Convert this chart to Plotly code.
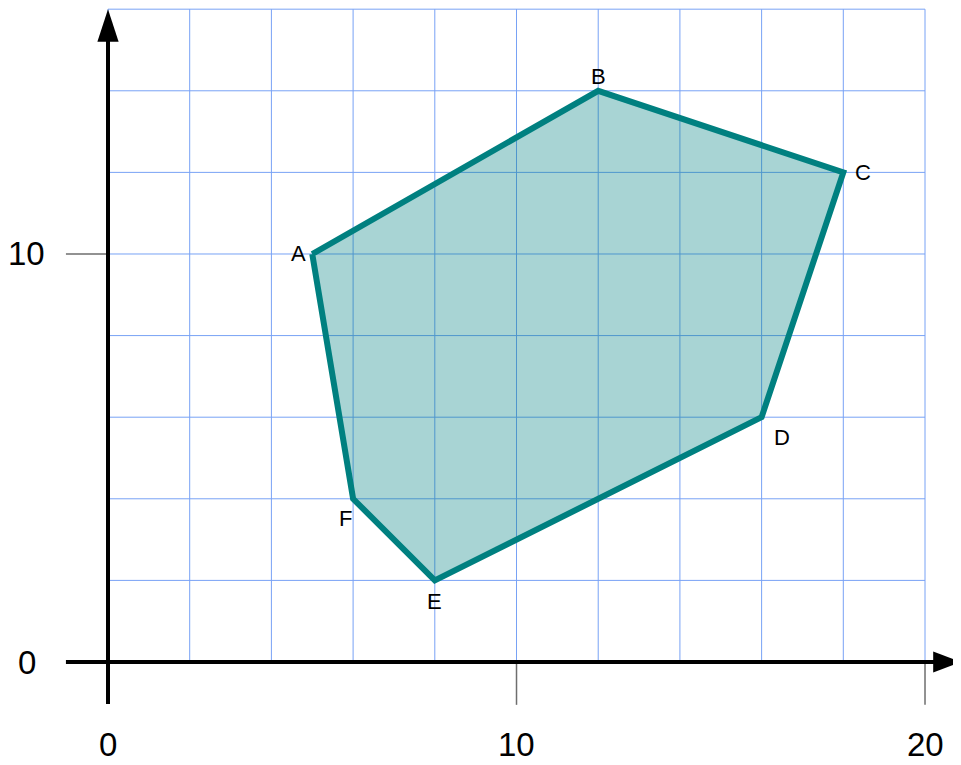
import plotly.graph_objects as go

# Data
vertex_names = ["A", "B", "C", "D", "E", "F"]
vertex_x = [5, 12, 18, 16, 8, 6]
vertex_y = [10, 14, 12, 6, 2, 4]

grid_x = list(range(0, 21, 2))
grid_y = list(range(0, 17, 2))
x_tick_labels = [0, 10, 20]
y_tick_labels = [0, 10]

# label offsets in pixels (dx, dy)
label_offsets = {"A": (-14, 0), "B": (0, 14), "C": (20, 0), "D": (20, -20),
                 "E": (0, -21), "F": (-8, -20)}

fig = go.Figure()

grid_color = "rgb(120,162,245)"
shapes = []
for gx in grid_x:
    shapes.append(dict(type="line", xref="x", yref="y", x0=gx, x1=gx, y0=0, y1=16,
                       line=dict(color=grid_color, width=1), layer="below"))
for gy in grid_y:
    shapes.append(dict(type="line", xref="x", yref="y", x0=0, x1=20, y0=gy, y1=gy,
                       line=dict(color=grid_color, width=1), layer="below"))

# polygon
px = vertex_x + [vertex_x[0]]
py = vertex_y + [vertex_y[0]]
fig.add_trace(go.Scatter(x=px, y=py, mode="lines", fill="toself",
                         fillcolor="rgba(0,128,128,0.34)",
                         line=dict(color="#008080", width=6),
                         hoverinfo="skip", showlegend=False))

# ticks (grey)
tick_color = "rgb(110,110,110)"
for tx in x_tick_labels[1:]:
    shapes.append(dict(type="line", xref="x", yref="y", x0=tx, x1=tx, y0=0, y1=-1.05,
                       line=dict(color=tick_color, width=1.5)))
for ty in y_tick_labels[1:]:
    shapes.append(dict(type="line", xref="x", yref="y", x0=-1.03, x1=0, y0=ty, y1=ty,
                       line=dict(color=tick_color, width=1.5)))

# axes lines
shapes.append(dict(type="line", xref="x", yref="y", x0=-1.03, x1=20.25, y0=0, y1=0,
                   line=dict(color="black", width=4)))
shapes.append(dict(type="line", xref="x", yref="y", x0=0, x1=0, y0=-1.03, y1=15.25,
                   line=dict(color="black", width=4)))
# arrowheads
shapes.append(dict(type="path", xref="x", yref="y",
                   path="M 0 16.0 L -0.26 15.2 L 0.26 15.2 Z",
                   fillcolor="black", line=dict(color="black", width=0)))
shapes.append(dict(type="path", xref="x", yref="y",
                   path="M 20.88 0 L 20.2 0.26 L 20.2 -0.26 Z",
                   fillcolor="black", line=dict(color="black", width=0)))

annotations = []
for n, vx, vy in zip(vertex_names, vertex_x, vertex_y):
    dx, dy = label_offsets[n]
    annotations.append(dict(x=vx, y=vy, text=n, showarrow=False, xshift=dx, yshift=dy,
                            font=dict(family="Liberation Sans, Arial", size=22, color="black")))
for t in x_tick_labels:
    annotations.append(dict(x=t, y=-2.03, text=str(t), showarrow=False,
                            font=dict(family="Liberation Sans, Arial", size=33, color="black")))
for t in y_tick_labels:
    annotations.append(dict(x=-1.99, y=t, text=str(t), showarrow=False,
                            font=dict(family="Liberation Sans, Arial", size=33, color="black")))

fig.update_layout(
    width=953, height=757,
    margin=dict(l=0, r=0, t=0, b=0),
    paper_bgcolor="white", plot_bgcolor="white",
    xaxis=dict(range=[-2.448, 20.881], visible=False, fixedrange=True),
    yaxis=dict(range=[-2.5245, 16.029], visible=False, fixedrange=True),
    shapes=shapes, annotations=annotations, showlegend=False,
)

fig.write_html("out.html")
